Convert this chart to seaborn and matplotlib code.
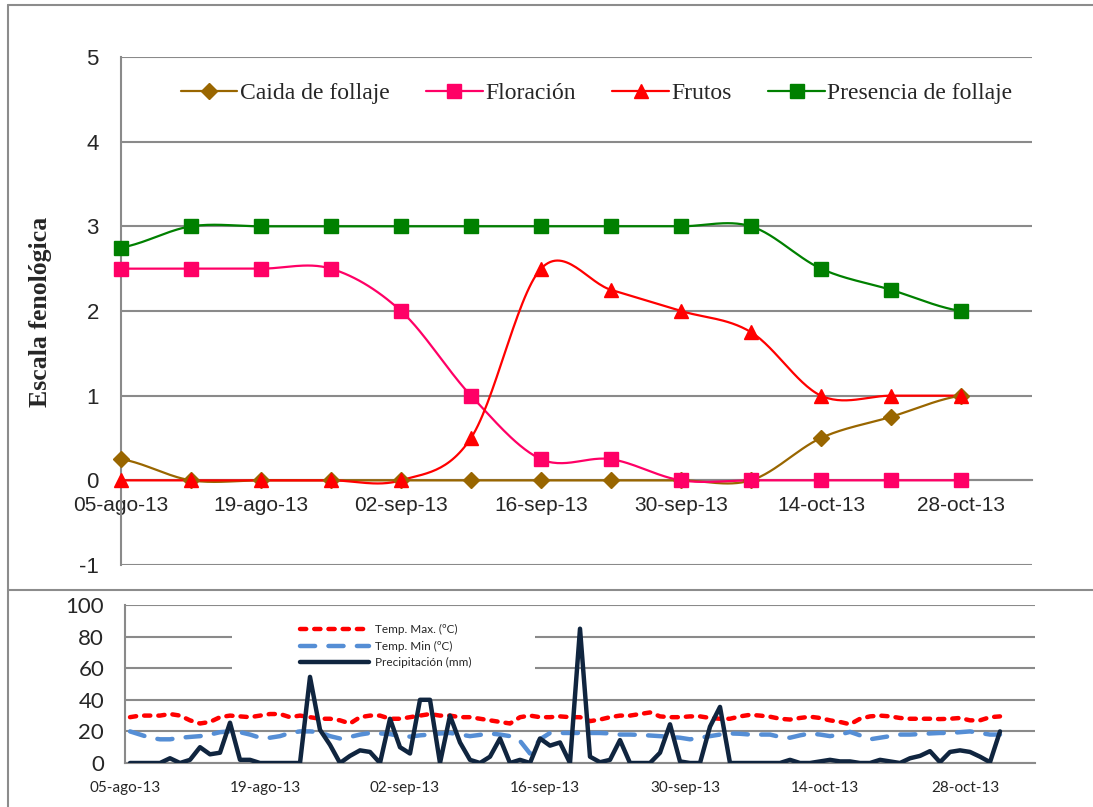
import numpy as np
import pandas as pd
import matplotlib
matplotlib.use("Agg")
import matplotlib.pyplot as plt
import matplotlib.dates as mdates
from matplotlib.lines import Line2D
from matplotlib.patches import Rectangle
import seaborn as sns

# ---------------- Top chart data (weekly phenological scale) ----------------
week_dates = pd.date_range("2013-08-05", periods=13, freq="7D")
caida_follaje = [0.25, 0, 0, 0, 0, 0, 0, 0, 0, 0, 0.5, 0.75, 1]
floracion = [2.5, 2.5, 2.5, 2.5, 2, 1, 0.25, 0.25, 0, 0, 0, 0, 0]
frutos = [0, 0, 0, 0, 0, 0.5, 2.5, 2.25, 2, 1.75, 1, 1, 1]
presencia_follaje = [2.75, 3, 3, 3, 3, 3, 3, 3, 3, 3, 2.5, 2.25, 2]
series_names = ["Caida de follaje", "Floración", "Frutos", "Presencia de follaje"]

tick_dates = pd.date_range("2013-08-05", periods=7, freq="14D")
tick_labels = ["05-ago-13", "19-ago-13", "02-sep-13", "16-sep-13",
               "30-sep-13", "14-oct-13", "28-oct-13"]
top_yticks = [-1, 0, 1, 2, 3, 4, 5]
bottom_yticks = [0, 20, 40, 60, 80, 100]

# ---------------- Bottom chart data (daily climate) ----------------
day_dates = pd.date_range("2013-08-05 12:00", periods=88, freq="D")
temp_max = [29, 30, 30, 30, 31, 30, 27, 25, 26, 29, 30, 29.5, 29, 30, 31, 31,
            29, 30, 29, 28, 28, 27, 25, 29, 30, 30, 28, 28, 29, 30, 31, 30,
            30, 29, 29, 28, 27, 26, 25, 29, 30, 29, 29, 29.5, 29, 29, 26.5, 27.5,
            29, 30, 30, 31, 32, 29.5, 29, 29, 29.5, 29.5, 28.5, 28, 28, 29.5, 30.5, 30,
            29.3, 28, 27.5, 28.5, 29.3, 28.5, 27, 26, 24.5, 28, 29.5, 30, 29.5, 28.5,
            28, 28, 28, 27.8, 28, 28.5, 27, 27, 29, 29.5]
temp_min = [20, 18, 16, 15, 15, 16, 16.5, 17, 18, 19.5, 20, 19.5, 18, 16, 16, 17,
            19, 20, 20, 19.5, 17, 15.5, 16.5, 18, 19, 18.7, 18.3, 17, 16.7, 17.5, 18, 18.7,
            19, 18, 17, 17.8, 18.7, 18, 17, 14, 6, 15, 19, 19, 19, 19, 19, 19,
            18.7, 18, 18, 17.8, 17.4, 17, 16.5, 16, 15, 16, 17, 18, 18.7, 18.5, 18, 18,
            18, 16.5, 16, 17.5, 18.7, 18, 17, 18, 19.7, 17.5, 15, 16, 17, 18,
            18, 18.3, 18.7, 19, 19, 19.5, 20, 19, 18, 18]
precip = [0, 0, 0, 0, 3, 0, 2, 10, 5.5, 6.5, 25.5, 2, 2, 0, 0, 0,
          0, 0, 54.5, 21, 11.5, 0, 4.5, 8, 7, 0, 28, 10, 6, 40, 40, 0,
          30, 13, 2, 0, 4, 15.5, 0, 2, 0, 15.5, 11, 13, 0, 85, 4, 0.5,
          2, 14.5, 0, 0, 0, 6.5, 24.5, 1, 0, 0, 23, 35.5, 0, 0, 0, 0,
          0, 0, 2, 0, 0, 1, 2, 1, 1, 0, 0, 2, 1, 0,
          3, 4.5, 7.5, 0.5, 7, 8, 7, 4, 0.5, 20]
climate_names = ["Temp. Max. (ºC)", "Temp. Min (ºC)", "Precipitación (mm)"]

# ---------------- styling ----------------
sns.set_style("white")
plt.rcParams["font.family"] = ["Liberation Sans", "DejaVu Sans"]

GRID = "#8a8a8a"
top_colors = ["#996600", "#FF0066", "#FF0000", "#008000"]
top_markers = ["D", "s", "^", "s"]
top_msizes = [8, 9.5, 10, 9.5]


def smooth(x, y, n=30):
    """Excel-like smoothed line (cubic Bezier / Catmull-Rom) through points."""
    x = np.asarray(x, float)
    y = np.asarray(y, float)
    xs, ys = [], []
    m = len(x)
    for i in range(m - 1):
        p0 = y[i - 1] if i > 0 else y[i]
        p3 = y[i + 2] if i + 2 < m else y[i + 1]
        c1 = y[i] + (y[i + 1] - p0) / 6.0
        c2 = y[i + 1] - (p3 - y[i]) / 6.0
        t = np.linspace(0, 1, n, endpoint=(i == m - 2))
        b = ((1 - t) ** 3 * y[i] + 3 * (1 - t) ** 2 * t * c1
             + 3 * (1 - t) * t ** 2 * c2 + t ** 3 * y[i + 1])
        xs.append(x[i] + t * (x[i + 1] - x[i]))
        ys.append(b)
    return np.concatenate(xs), np.concatenate(ys)


W, H = 1093, 807
fig = plt.figure(figsize=(W / 100, H / 100), dpi=100)
fig.patch.set_facecolor("white")

base = mdates.date2num(week_dates[0])
xw = mdates.date2num(week_dates)
xticks = mdates.date2num(tick_dates)

# ================= top chart =================
ax = fig.add_axes([121 / W, 1 - 565 / H, 911 / W, 508 / H])
# spines first (set_position resets tick objects)
for s in ["top", "right"]:
    ax.spines[s].set_visible(False)
ax.spines["left"].set_color(GRID)
ax.spines["left"].set_linewidth(1.5)
ax.spines["bottom"].set_position(("data", 0))
ax.spines["bottom"].set_color(GRID)
ax.spines["bottom"].set_linewidth(1.5)

all_series = [caida_follaje, floracion, frutos, presencia_follaje]
handles = []
for vals, name, col, mk, ms in zip(all_series, series_names, top_colors, top_markers, top_msizes):
    sx, sy = smooth(xw, vals)
    sns.lineplot(x=sx, y=sy, color=col, lw=1.6, ax=ax, sort=False, estimator=None, zorder=3)
    ax.plot(xw, vals, ls="none", marker=mk, ms=ms, color=col, mec=col, zorder=4, clip_on=False)
    handles.append(Line2D([], [], color=col, lw=1.6, marker=mk, ms=ms, mec=col))

ax.set_xlim(base, base + 91.1)
ax.set_ylim(-1, 5)
ax.set_yticks(top_yticks)
ax.set_yticklabels([str(v) for v in top_yticks], fontsize=16)
ax.set_xticks(xticks)
ax.set_xticklabels(tick_labels, fontsize=15)
ax.grid(axis="y", color=GRID, lw=1.5)
ax.grid(axis="x", visible=False)
ax.set_axisbelow(True)
ax.tick_params(axis="x", length=0, pad=11, labelsize=15)
ax.tick_params(axis="y", direction="out", length=6, width=1.5, color=GRID, pad=10, labelsize=16)
ax.set_xlabel("")
ax.set_ylabel("Escala fenológica", fontsize=18.5, fontweight="bold",
              family=["Liberation Serif", "DejaVu Serif"])
ax.yaxis.set_label_coords(-0.076, 0.498)
ax.legend(handles, series_names, loc="center", bbox_to_anchor=(0.522, 0.928), ncol=4,
          frameon=False, handlelength=2.4, handletextpad=0.1, columnspacing=1.55,
          prop={"family": ["Liberation Serif", "DejaVu Serif"], "size": 17})

# ================= bottom chart =================
bx = fig.add_axes([125 / W, 1 - 763 / H, 910 / W, 158 / H])
for s in ["top", "right"]:
    bx.spines[s].set_visible(False)
for s in ["left", "bottom"]:
    bx.spines[s].set_color(GRID)
    bx.spines[s].set_linewidth(1.5)

xd = mdates.date2num(day_dates)
clim_df = pd.DataFrame({"x": xd, climate_names[0]: temp_max,
                        climate_names[1]: temp_min, climate_names[2]: precip})
sns.lineplot(data=clim_df, x="x", y=climate_names[0], ax=bx, color="#FF0000", lw=3.2,
             label=climate_names[0], zorder=3)
sns.lineplot(data=clim_df, x="x", y=climate_names[1], ax=bx, color="#558ED5", lw=3.2,
             label=climate_names[1], zorder=3)
sns.lineplot(data=clim_df, x="x", y=climate_names[2], ax=bx, color="#10253F", lw=3.2,
             label=climate_names[2], zorder=3)
lines = bx.get_lines()
lines[0].set_dashes([1.4, 1.8])
lines[0].set_dash_capstyle("round")
lines[1].set_dashes([3.4, 3.0])
lines[1].set_dash_capstyle("round")

bx.set_xlim(base, base + 91)
bx.set_ylim(0, 100)
bx.set_yticks(bottom_yticks)
bx.set_yticklabels([str(v) for v in bottom_yticks], fontsize=16, family=["Lato", "DejaVu Sans"])
bx.set_xticks(xticks)
bx.set_xticklabels(tick_labels, fontsize=11, family=["Lato", "DejaVu Sans"])
bx.grid(axis="y", color=GRID, lw=1.5)
bx.grid(axis="x", visible=False)
bx.set_axisbelow(True)
bx.tick_params(axis="x", direction="out", length=5, width=1.5, color=GRID, pad=8)
bx.tick_params(axis="y", direction="out", length=7, width=1.5, color=GRID, pad=8)
bx.set_xlabel("")
bx.set_ylabel("")
bx.add_patch(Rectangle((0.118, 0.56), 0.333, 0.38, transform=bx.transAxes,
                       facecolor="white", edgecolor="none", zorder=2))
leg = bx.legend(loc="upper left", bbox_to_anchor=(0.186, 0.915), frameon=False,
                handlelength=5.8, handletextpad=0.5, labelspacing=0.45, borderpad=0,
                prop={"family": ["Lato", "DejaVu Sans"], "size": 8.5})
leg.set_zorder(5)

# ================= outer frame lines =================
fc = "#8c8c8c"
fig.add_artist(Line2D([7.5 / W, 7.5 / W], [0, 1 - 5 / H], transform=fig.transFigure, color=fc, lw=1.5))
fig.add_artist(Line2D([7.5 / W, 1], [1 - 5 / H, 1 - 5 / H], transform=fig.transFigure, color=fc, lw=1.5))
fig.add_artist(Line2D([7.5 / W, 1], [1 - 590 / H, 1 - 590 / H], transform=fig.transFigure, color=fc, lw=1.5))

fig.savefig("out.png", dpi=100, facecolor="white")
